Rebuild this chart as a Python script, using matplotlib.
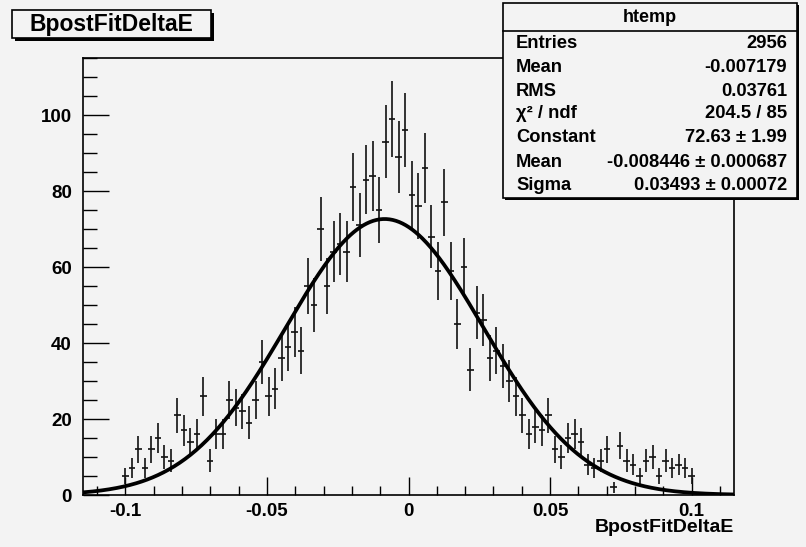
import numpy as np
import matplotlib
matplotlib.use("Agg")
import matplotlib.pyplot as plt
from matplotlib.patches import Rectangle
from matplotlib.ticker import MultipleLocator

# ---------------- data ----------------
x_min, x_max, n_bins = -0.115, 0.115, 100
counts = [0, 0, 0, 0, 0, 0,
          5, 7, 12, 7, 12, 15, 10, 9, 21, 17, 14, 16, 26, 9,
          16, 16, 25, 23, 22, 19, 25, 35, 26, 28, 36, 39, 43, 38,
          55, 50, 70, 55, 64, 66, 64, 81, 71, 83, 84, 75, 93, 99,
          89, 96, 79, 76, 86, 68, 59, 77, 59, 45, 60, 33, 48, 46,
          36, 38, 34, 30, 26, 21, 16, 18, 17, 21, 12, 10, 15, 16,
          14, 8, 7, 9, 12, 2, 13, 9, 8, 5, 9, 10, 5, 9, 7, 8, 7, 5,
          0, 0, 0, 0, 0, 0]
fit_constant, fit_mean, fit_sigma = 72.63, -0.008446, 0.03493
stats_labels = ["Entries", "Mean", "RMS", "\u03c7\u00b2 / ndf", "Constant", "Mean", "Sigma"]
stats_values = ["2956", "-0.007179", "0.03761", "204.5 / 85",
                "72.63 \u00b1 1.99", "-0.008446 \u00b1 0.000687", "0.03493 \u00b1 0.00072"]
title = "BpostFitDeltaE"
x_ticks = [-0.1, -0.05, 0, 0.05, 0.1]
x_tick_labels = ["-0.1", "-0.05", "0", "0.05", "0.1"]
y_ticks = [0, 20, 40, 60, 80, 100]
y_tick_labels = ["0", "20", "40", "60", "80", "100"]
y_max = 115

# ---------------- figure ----------------
W, H = 806, 547
BG = "#f3f3f3"
plt.rcParams['font.family'] = ['Liberation Sans', 'DejaVu Sans']
plt.rcParams['font.weight'] = 'bold'
fig = plt.figure(figsize=(W / 100, H / 100), dpi=100, facecolor=BG)

L, R, T, B = 83, 734, 58, 495
ax = fig.add_axes([L / W, 1 - B / H, (R - L) / W, (B - T) / H])
ax.set_facecolor(BG)

edges = np.linspace(x_min, x_max, n_bins + 1)
centers = 0.5 * (edges[:-1] + edges[1:])
half_w = 0.5 * (edges[1] - edges[0])
cnt = np.array(counts, dtype=float)
mask = cnt > 0
ax.errorbar(centers[mask], cnt[mask], xerr=half_w, yerr=np.sqrt(cnt[mask]),
            fmt='none', ecolor='#111111', elinewidth=1.2, capsize=0)

xf = np.linspace(x_min, x_max, 600)
yf = fit_constant * np.exp(-0.5 * ((xf - fit_mean) / fit_sigma) ** 2)
ax.plot(xf, yf, color='black', lw=2.7, solid_capstyle='round')

ax.set_xlim(x_min, x_max)
ax.set_ylim(0, y_max)
ax.xaxis.set_minor_locator(MultipleLocator(0.01))
ax.yaxis.set_minor_locator(MultipleLocator(5))
ax.tick_params(axis='both', which='both', direction='in', colors='black',
               top=False, right=False)
ax.tick_params(axis='x', which='major', length=13, width=1, labelsize=13.5, pad=6)
ax.tick_params(axis='x', which='minor', length=6.5, width=1)
ax.tick_params(axis='y', which='major', length=19, width=1, labelsize=13.5, pad=8)
ax.tick_params(axis='y', which='minor', length=10, width=1)
ax.set_xticks(x_ticks)
ax.set_xticklabels(x_tick_labels, fontweight='bold')
ax.set_yticks(y_ticks)
ax.set_yticklabels(y_tick_labels, fontweight='bold')
for s in ax.spines.values():
    s.set_linewidth(1.2)
    s.set_color('black')


def fx(x):
    return x / W


def fy(y):
    return 1 - y / H


# x-axis label
fig.text(fx(R), fy(528), title, ha='right', va='center', fontsize=14, fontweight='bold')

# title box with shadow
tb = (12, 10, 211, 38)
fig.patches.append(Rectangle((fx(tb[0] + 3), fy(tb[3] + 3)), fx(tb[2] - tb[0]), (tb[3] - tb[1]) / H,
                             transform=fig.transFigure, facecolor='black', edgecolor='black', lw=0))
fig.patches.append(Rectangle((fx(tb[0]), fy(tb[3])), fx(tb[2] - tb[0]), (tb[3] - tb[1]) / H,
                             transform=fig.transFigure, facecolor=BG, edgecolor='black', lw=1.2))
fig.text(fx((tb[0] + tb[2]) / 2), fy((tb[1] + tb[3]) / 2 + 1), title, ha='center', va='center',
         fontsize=16.5, fontweight='bold')

# stats box
sb = (503, 3, 797, 198)
fig.patches.append(Rectangle((fx(sb[0] + 2), fy(sb[3] + 2)), fx(sb[2] - sb[0]), (sb[3] - sb[1]) / H,
                             transform=fig.transFigure, facecolor='black', edgecolor='black', lw=0))
fig.patches.append(Rectangle((fx(sb[0]), fy(sb[3])), fx(sb[2] - sb[0]), (sb[3] - sb[1]) / H,
                             transform=fig.transFigure, facecolor=BG, edgecolor='black', lw=1.2))
fig.add_artist(plt.Line2D([fx(sb[0]), fx(sb[2])], [fy(31), fy(31)], transform=fig.transFigure,
                          color='black', lw=1.2))
fig.text(fx((sb[0] + sb[2]) / 2), fy(17), "htemp", ha='center', va='center', fontsize=13,
         fontweight='bold')
row_y = [44, 67, 91, 114, 138, 162, 185]
for lab, val, yy in zip(stats_labels, stats_values, row_y):
    fig.text(fx(516), fy(yy), lab, ha='left', va='center', fontsize=13.2, fontweight='bold')
    fig.text(fx(787), fy(yy), val, ha='right', va='center', fontsize=13.2, fontweight='bold')

fig.savefig("out.png", dpi=100, facecolor=BG)
